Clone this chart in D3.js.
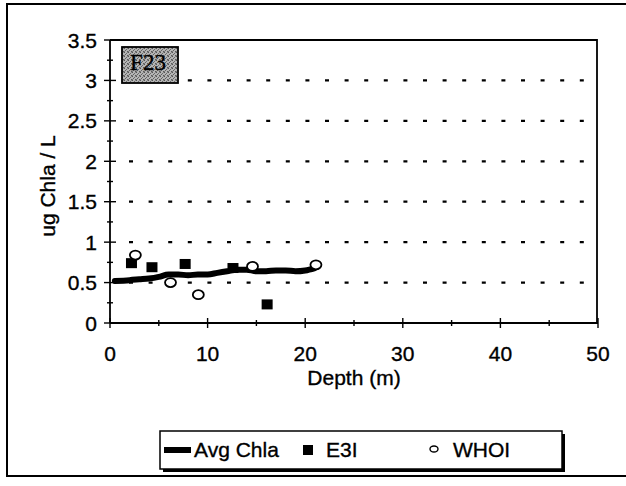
<!DOCTYPE html>
<html>
<head>
<meta charset="utf-8">
<script src="https://cdn.jsdelivr.net/npm/d3@7"></script>
<style>
  html, body { margin: 0; padding: 0; background: #fff; }
  svg { display: block; }
  text { font-family: "Liberation Sans", Arial, Helvetica, sans-serif; fill: #000; stroke: #000; stroke-width: 0.35; }
</style>
</head>
<body>
<svg id="chart" width="626" height="486"></svg>
<script>
// Station F23 chlorophyll profile
const avgDepth = [0.5, 2, 3, 4, 5, 6, 7, 8, 9, 10, 11, 12, 13, 14, 15, 16, 17, 18, 19, 20, 21];
const avgChla  = [0.52, 0.53, 0.54, 0.55, 0.57, 0.60, 0.60, 0.59, 0.60, 0.60, 0.62, 0.64, 0.66, 0.66, 0.64, 0.64, 0.65, 0.65, 0.64, 0.65, 0.68];

const e3iDepth = [2.2, 4.3, 7.7, 12.6, 16.1];
const e3iChla  = [0.74, 0.69, 0.73, 0.68, 0.23];

const whoiDepth = [2.6, 6.2, 9.05, 14.6, 21.1];
const whoiChla  = [0.84, 0.50, 0.35, 0.70, 0.72];

const xTicks = [0, 10, 20, 30, 40, 50];
const yTicks = [0, 0.5, 1, 1.5, 2, 2.5, 3, 3.5];
const yGrid  = [0.5, 1, 1.5, 2, 2.5, 3];
const stationLabel = "F23";
const legendLabels = ["Avg Chla", "E3I", "WHOI"];

const FS = 21;
const svg = d3.select("#chart");

// Stippled gray fill for the station tag
const defs = svg.append("defs");
const pat = defs.append("pattern").attr("id", "stipple")
  .attr("width", 4).attr("height", 4).attr("patternUnits", "userSpaceOnUse");
pat.append("rect").attr("width", 4).attr("height", 4).attr("fill", "#b4b4b4");
[[0,0,"#555"],[2,1,"#6a6a6a"],[1,2,"#606060"],[3,3,"#5a5a5a"],[3,0,"#888"],[0,3,"#7a7a7a"]].forEach(([px, py, c]) =>
  pat.append("rect").attr("x", px).attr("y", py).attr("width", 1).attr("height", 1).attr("fill", c));

// Outer frame
svg.append("path")
  .attr("d", "M640,4 H7 V476 H640")
  .attr("fill", "none").attr("stroke", "#000").attr("stroke-width", 2);

const x = d3.scaleLinear().domain([0, 50]).range([110, 598]);
const y = d3.scaleLinear().domain([0, 3.5]).range([323, 40]);

// Dotted gridlines
svg.append("g").selectAll("line").data(yGrid).join("line")
  .attr("x1", x(0) + 19).attr("x2", x(50))
  .attr("y1", d => y(d)).attr("y2", d => y(d))
  .attr("stroke", "#000").attr("stroke-width", 2.2)
  .attr("stroke-dasharray", "4 15.6");

// Top and right borders of the plot area
svg.append("path")
  .attr("d", `M${x(0)},${y(3.5)} H${x(50) - 1} V${y(0)}`)
  .attr("fill", "none").attr("stroke", "#000").attr("stroke-width", 1.8);

// Y axis with crossing ticks
const isHalf = d => Math.abs(d * 2 - Math.round(d * 2)) < 1e-6;
const yAxis = svg.append("g");
yAxis.append("line").attr("x1", x(0)).attr("x2", x(0)).attr("y1", y(0)).attr("y2", y(3.5))
  .attr("stroke", "#000").attr("stroke-width", 1.8);
yAxis.selectAll("line.t").data(d3.range(0, 3.51, 0.25)).join("line").attr("class", "t")
  .attr("x1", d => x(0) - (isHalf(d) ? 6 : 3))
  .attr("x2", d => x(0) + (isHalf(d) ? 6 : 3))
  .attr("y1", d => y(d)).attr("y2", d => y(d))
  .attr("stroke", "#000").attr("stroke-width", 1.4);
yAxis.selectAll("text").data(yTicks).join("text")
  .attr("x", x(0) - 13).attr("y", d => y(d)).attr("dy", "0.36em")
  .attr("text-anchor", "end").attr("font-size", FS)
  .text(d => d);

// X axis with crossing ticks
const xAxis = svg.append("g");
xAxis.append("line").attr("x1", x(0)).attr("x2", x(50)).attr("y1", y(0)).attr("y2", y(0))
  .attr("stroke", "#000").attr("stroke-width", 1.8);
xAxis.selectAll("line.t").data(d3.range(0, 50.1, 5)).join("line").attr("class", "t")
  .attr("x1", d => x(d)).attr("x2", d => x(d))
  .attr("y1", d => y(0) - (d % 10 === 0 ? 5 : 3))
  .attr("y2", d => y(0) + (d % 10 === 0 ? 5 : 3))
  .attr("stroke", "#000").attr("stroke-width", 1.4);
xAxis.selectAll("text").data(xTicks).join("text")
  .attr("x", d => x(d)).attr("y", 361)
  .attr("text-anchor", "middle").attr("font-size", FS)
  .text(d => d);

// Axis titles
svg.append("text").attr("x", 354).attr("y", 385)
  .attr("text-anchor", "middle").attr("font-size", FS).text("Depth (m)");
svg.append("text").attr("transform", "translate(55,186) rotate(-90)")
  .attr("text-anchor", "middle").attr("font-size", FS).text("ug Chla / L");

// Station tag
svg.append("rect").attr("x", 122).attr("y", 47).attr("width", 56).attr("height", 36)
  .attr("fill", "url(#stipple)").attr("stroke", "#000").attr("stroke-width", 1.8);
svg.append("text").attr("x", 148).attr("y", 70)
  .attr("text-anchor", "middle").attr("font-size", 23)
  .style("font-family", "'Liberation Serif', 'Times New Roman', serif")
  .text(stationLabel);

// Average profile line
const avgData = avgDepth.map((d, i) => [d, avgChla[i]]);
svg.append("path").datum(avgData)
  .attr("d", d3.line().x(d => x(d[0])).y(d => y(d[1])).curve(d3.curveMonotoneX))
  .attr("fill", "none").attr("stroke", "#000").attr("stroke-width", 6)
  .attr("stroke-linecap", "round");

// E3I samples
svg.append("g").selectAll("rect").data(e3iDepth.map((d, i) => [d, e3iChla[i]])).join("rect")
  .attr("x", d => x(d[0]) - 5.5).attr("y", d => y(d[1]) - 5)
  .attr("width", 11).attr("height", 10).attr("fill", "#000");

// WHOI samples
svg.append("g").selectAll("ellipse").data(whoiDepth.map((d, i) => [d, whoiChla[i]])).join("ellipse")
  .attr("cx", d => x(d[0])).attr("cy", d => y(d[1]))
  .attr("rx", 5.5).attr("ry", 4.5)
  .attr("fill", "#fff").attr("stroke", "#000").attr("stroke-width", 1.8);

// Legend
const lg = svg.append("g");
lg.append("rect").attr("x", 163).attr("y", 434).attr("width", 402).attr("height", 38).attr("fill", "#000");
lg.append("rect").attr("x", 160).attr("y", 431).attr("width", 402).attr("height", 38)
  .attr("fill", "#fff").attr("stroke", "#000").attr("stroke-width", 1.5);
const ly = 450, lb = 457;
lg.append("line").attr("x1", 164).attr("x2", 191).attr("y1", ly).attr("y2", ly)
  .attr("stroke", "#000").attr("stroke-width", 6);
lg.append("text").attr("x", 194).attr("y", lb).attr("font-size", FS).text(legendLabels[0]);
lg.append("rect").attr("x", 303).attr("y", ly - 5).attr("width", 10).attr("height", 10).attr("fill", "#000");
lg.append("text").attr("x", 326).attr("y", lb).attr("font-size", FS).text(legendLabels[1]);
lg.append("ellipse").attr("cx", 434).attr("cy", ly - 1).attr("rx", 4).attr("ry", 3)
  .attr("fill", "#fff").attr("stroke", "#000").attr("stroke-width", 1.4);
lg.append("text").attr("x", 453).attr("y", lb).attr("font-size", FS).text(legendLabels[2]);
</script>
</body>
</html>
